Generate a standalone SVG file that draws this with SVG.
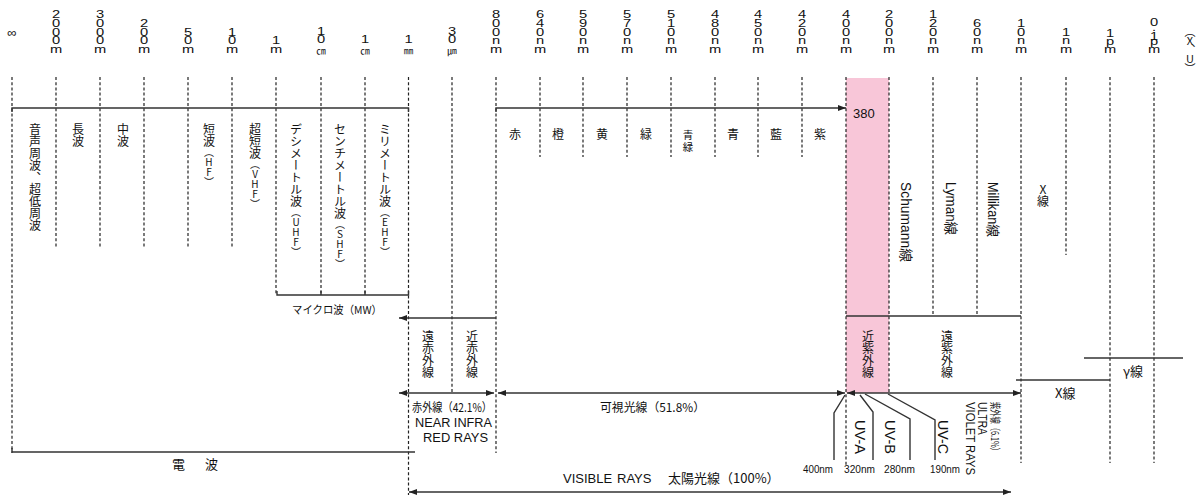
<svg xmlns="http://www.w3.org/2000/svg" width="1201" height="497" viewBox="0 0 1201 497">
<style>
.d{stroke:#222;stroke-width:1.2;stroke-dasharray:3 2.2;fill:none}
.s{stroke:#333;stroke-width:1.4;fill:none}
.t{font-family:"Liberation Sans","Noto Sans CJK JP",sans-serif;fill:#111}
.j{font-family:"Noto Sans CJK JP",sans-serif;fill:#111}
.v{font-family:"Noto Sans CJK JP",sans-serif;fill:#111;font-size:12px;writing-mode:vertical-rl;text-orientation:upright}
.p{font-size:10px}
.u{font-family:"Liberation Sans",sans-serif;font-size:10.5px;fill:#111;text-anchor:middle}
.sq{font-family:"Noto Sans CJK JP","Noto Sans CJK SC",sans-serif;font-size:9.5px;fill:#111;text-anchor:middle}
.arr{marker-start:url(#ah);marker-end:url(#ah)}
</style>
<defs>
<marker id="ah" viewBox="0 0 8 6" refX="8" refY="3" markerWidth="8" markerHeight="6" markerUnits="userSpaceOnUse" orient="auto-start-reverse"><path d="M0,0L8,3L0,6z" fill="#222"/></marker>
</defs>
<rect width="1201" height="497" fill="#fff"/>
<rect id="near-uv-band" x="846" y="78" width="43" height="315" fill="#f8c6d8"/>

<g id="scale">
<text class="t" x="12" y="37" font-size="13" text-anchor="middle">∞</text>
<text class="u" transform="translate(56 0) scale(1.4 1)" x="0 0 0 0 0" y="18 27 36 44.5 53">2000m</text>
<text class="u" transform="translate(100 0) scale(1.4 1)" x="0 0 0 0 0" y="18 27 36 44.5 53">3000m</text>
<text class="u" transform="translate(144 0) scale(1.4 1)" x="0 0 0 0" y="27 36 44.5 53">200m</text>
<text class="u" transform="translate(188 0) scale(1.4 1)" x="0 0 0" y="36 44.5 53">50m</text>
<text class="u" transform="translate(232 0) scale(1.4 1)" x="0 0 0" y="36 44.5 53">10m</text>
<text class="u" transform="translate(276 0) scale(1.4 1)" x="0 0" y="44.5 53">1m</text>
<text class="u" transform="translate(321 0) scale(1.4 1)" x="0 0" y="35 43.5">10</text>
<text class="sq" x="321" y="54">㎝</text>
<text class="u" transform="translate(365 0) scale(1.4 1)" x="0" y="43.5">1</text>
<text class="sq" x="365" y="54">㎝</text>
<text class="u" transform="translate(408.5 0) scale(1.4 1)" x="0" y="43.5">1</text>
<text class="sq" x="408.5" y="54">㎜</text>
<text class="u" transform="translate(452 0) scale(1.4 1)" x="0 0" y="35 43.5">30</text>
<text class="sq" x="452" y="54">㎛</text>
<text class="u" transform="translate(496 0) scale(1.4 1)" x="0 0 0 0 0" y="18 27 36 44.5 53">800nm</text>
<text class="u" transform="translate(540 0) scale(1.4 1)" x="0 0 0 0 0" y="18 27 36 44.5 53">640nm</text>
<text class="u" transform="translate(583 0) scale(1.4 1)" x="0 0 0 0 0" y="18 27 36 44.5 53">590nm</text>
<text class="u" transform="translate(627 0) scale(1.4 1)" x="0 0 0 0 0" y="18 27 36 44.5 53">570nm</text>
<text class="u" transform="translate(671 0) scale(1.4 1)" x="0 0 0 0 0" y="18 27 36 44.5 53">510nm</text>
<text class="u" transform="translate(715 0) scale(1.4 1)" x="0 0 0 0 0" y="18 27 36 44.5 53">480nm</text>
<text class="u" transform="translate(758 0) scale(1.4 1)" x="0 0 0 0 0" y="18 27 36 44.5 53">450nm</text>
<text class="u" transform="translate(802 0) scale(1.4 1)" x="0 0 0 0 0" y="18 27 36 44.5 53">420nm</text>
<text class="u" transform="translate(846 0) scale(1.4 1)" x="0 0 0 0 0" y="18 27 36 44.5 53">400nm</text>
<text class="u" transform="translate(889 0) scale(1.4 1)" x="0 0 0 0 0" y="18 27 36 44.5 53">200nm</text>
<text class="u" transform="translate(933 0) scale(1.4 1)" x="0 0 0 0 0" y="18 27 36 44.5 53">120nm</text>
<text class="u" transform="translate(977 0) scale(1.4 1)" x="0 0 0 0" y="27 36 44.5 53">60nm</text>
<text class="u" transform="translate(1021 0) scale(1.4 1)" x="0 0 0 0" y="27 36 44.5 53">10nm</text>
<text class="u" transform="translate(1066 0) scale(1.4 1)" x="0 0 0" y="36 44.5 53">1nm</text>
<text class="u" transform="translate(1110 0) scale(1.4 1)" x="0 0 0" y="37 45.5 53">1pm</text>
<text class="u" transform="translate(1154 0) scale(1.4 1)" x="0 0 0 0 0" y="26 31 40 45.5 53">0.1pm</text>
<text class="v" x="1190" y="26" textLength="48" lengthAdjust="spacing" style="font-size:11px">（X、U）</text>
</g>

<g id="connectors">
<g class="d">
<path d="M12,77V453"/>
<path d="M56,77V247M100,77V247M144,77V247M188,77V247M232,77V247"/>
<path d="M276,77V295M321,77V295M365,77V295"/>
<path d="M408.5,77V495"/>
<path d="M452,77V392"/>
<path d="M496,77V453"/>
<path d="M540,77V157M583,77V157M627,77V157M671,77V157M715,77V157M758,77V157M802,77V157"/>
<path d="M846,77V466"/>
<path d="M889,77V393"/>
<path d="M933,77V315M977,77V315"/>
<path d="M1021,77V463"/>
<path d="M1066,77V255"/>
<path d="M1110,77V463M1154,77V463"/>
</g>
<g class="s">
<path d="M12,112V108H408.5V112"/>
<path d="M496,112V108H846" marker-end="url(#ah)"/>
<path d="M277,291V295H408.5V291M321,291V295M365,291V295"/>
<path d="M496,318H399" marker-end="url(#ah)"/>
<path class="arr" d="M399,393H494"/>
<path class="arr" d="M498,393H845"/>
<path class="arr" d="M847,393H1021"/>
<path d="M12,448V452H415"/>
<path class="arr" d="M409,492H1011"/>
<path d="M846,316H1021"/>
<path d="M1016,380H1110"/>
<path d="M1084,358H1183"/>
<path d="M845,395L834,413V460"/>
<path d="M860,395L873,412V460"/>
<path d="M865,394L910,419V460"/>
<path d="M888,394L935,420V460"/>
</g>
</g>

<g id="radio-waves">
<text class="v" x="35" y="123">音声周波、超低周波</text>
<text class="v" x="78" y="123">長波</text>
<text class="v" x="123" y="123">中波</text>
<text class="v" x="209" y="123">短波<tspan class="p">（HF）</tspan></text>
<text class="v" x="255" y="123">超短波<tspan class="p">（VHF）</tspan></text>
<text class="v" x="296" y="123">デシメートル波<tspan class="p">（UHF）</tspan></text>
<text class="v" x="340" y="123">センチメートル波<tspan class="p">（SHF）</tspan></text>
<text class="v" x="385" y="123">ミリメートル波<tspan class="p">（EHF）</tspan></text>
<text class="j" x="292" y="314" font-size="11" textLength="90" lengthAdjust="spacingAndGlyphs">マイクロ波（MW）</text>
<text class="j" x="172" y="469" font-size="13">電<tspan x="205">波</tspan></text>
</g>

<g id="infrared">
<text class="v" x="428" y="330">遠赤外線</text>
<text class="v" x="472" y="330">近赤外線</text>
<text class="j" x="412" y="412" font-size="12" textLength="80" lengthAdjust="spacingAndGlyphs">赤外線（42.1%）</text>
<text class="t" x="415" y="426.5" font-size="12.5" textLength="77" lengthAdjust="spacingAndGlyphs">NEAR INFRA</text>
<text class="t" x="423" y="441.5" font-size="12.5" textLength="65" lengthAdjust="spacingAndGlyphs">RED RAYS</text>
</g>

<g id="visible">
<g class="j" font-size="12" text-anchor="middle">
<text x="515" y="139">赤</text>
<text x="558" y="139">橙</text>
<text x="602" y="139">黄</text>
<text x="646" y="139">緑</text>
<text x="688" y="139" font-size="10.5">青</text>
<text x="688" y="151" font-size="10.5">緑</text>
<text x="733" y="139">青</text>
<text x="776" y="139">藍</text>
<text x="820" y="139">紫</text>
</g>
<text class="t" x="853" y="118" font-size="13">380</text>
<text class="j" x="600" y="412" font-size="12" textLength="105" lengthAdjust="spacingAndGlyphs">可視光線（51.8%）</text>
</g>

<g id="ultraviolet">
<text class="v" x="868" y="330">近紫外線</text>
<text class="v" x="947" y="330">遠紫外線</text>
<text class="t" font-size="14" transform="translate(901 182) rotate(90)" textLength="80" lengthAdjust="spacingAndGlyphs">Schumann線</text>
<text class="t" font-size="14" transform="translate(946 182) rotate(90)" textLength="53" lengthAdjust="spacingAndGlyphs">Lyman線</text>
<text class="t" font-size="14" transform="translate(988 182) rotate(90)" textLength="55" lengthAdjust="spacingAndGlyphs">Millikan線</text>
<text class="t" font-size="14" transform="translate(855 420) rotate(90)" textLength="34" lengthAdjust="spacingAndGlyphs">UV-A</text>
<text class="t" font-size="14" transform="translate(885 420) rotate(90)" textLength="34" lengthAdjust="spacingAndGlyphs">UV-B</text>
<text class="t" font-size="14" transform="translate(938 420) rotate(90)" textLength="34" lengthAdjust="spacingAndGlyphs">UV-C</text>
<text class="j" font-size="11" transform="translate(991 402) rotate(90)" textLength="53" lengthAdjust="spacingAndGlyphs">紫外線（6.1%）</text>
<text class="t" font-size="12.5" transform="translate(978 402) rotate(90)" textLength="33" lengthAdjust="spacingAndGlyphs">ULTRA</text>
<text class="t" font-size="12.5" transform="translate(966 402) rotate(90)" textLength="73" lengthAdjust="spacingAndGlyphs">VIOLET RAYS</text>
<g class="t" font-size="11">
<text x="803" y="473" textLength="30" lengthAdjust="spacingAndGlyphs">400nm</text>
<text x="844" y="473" textLength="31" lengthAdjust="spacingAndGlyphs">320nm</text>
<text x="884" y="473" textLength="31" lengthAdjust="spacingAndGlyphs">280nm</text>
<text x="930" y="473" textLength="30" lengthAdjust="spacingAndGlyphs">190nm</text>
</g>
</g>

<g id="x-gamma">
<text class="v" x="1043" y="183">X線</text>
<text class="j" x="1055" y="398" font-size="13">X線</text>
<text class="j" x="1123" y="376" font-size="13">γ線</text>
</g>

<g id="solar">
<text class="t" y="482.5" font-size="13"><tspan x="563">VISIBLE</tspan> <tspan x="617">RAYS</tspan> <tspan x="668" font-family="Noto Sans CJK JP">太陽光線（100%）</tspan></text>
</g>
</svg>
